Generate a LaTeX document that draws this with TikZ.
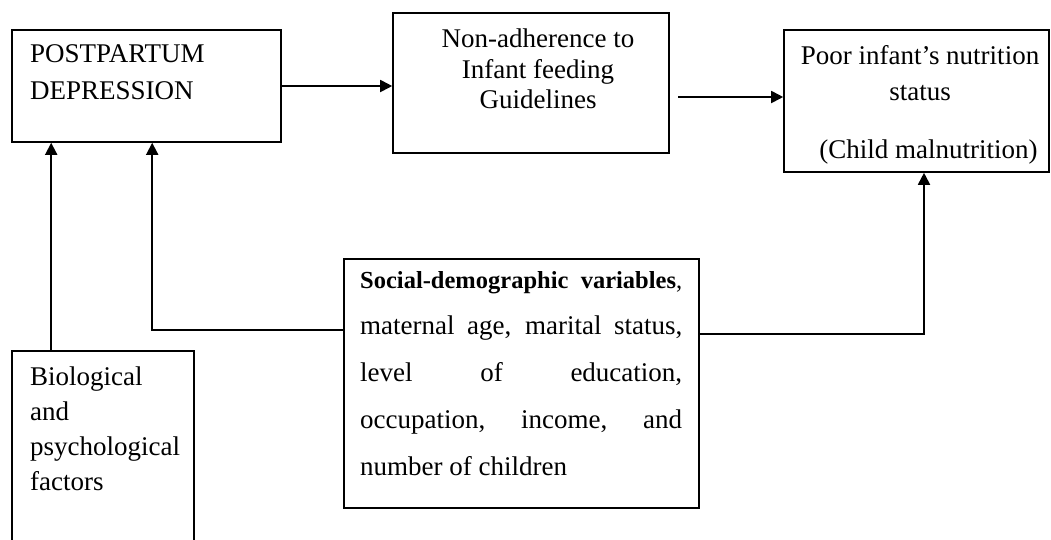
\documentclass[tikz,border=0pt]{standalone}
\usepackage{fontspec}
\setmainfont{Liberation Serif}
\usetikzlibrary{arrows.meta}
\usetikzlibrary{calc}

\begin{document}
\begin{tikzpicture}[x=1pt,y=-1pt]

          \tikzstyle{boxNode} = [draw, line width=1.6pt, rectangle, inner sep=0pt];
          \tikzstyle{textNode} = [inner sep=0pt];
          \tikzstyle{arrowEdge} = [line width=1.8pt, -{Triangle[length=12pt,width=12pt]}];

          \useasboundingbox (0,0) rectangle (1051,539);

          % boxes
          \node[boxNode, minimum width=269pt, minimum height=112pt] (ppd) at (146.5,86) {};
          \node[boxNode, minimum width=276pt, minimum height=140pt] (nonadh) at (531,83) {};
          \node[boxNode, minimum width=265pt, minimum height=142pt] (poor) at (916.5,101) {};
          \node[boxNode, minimum width=355pt, minimum height=249pt] (socdem) at (521.5,383.5) {};
          \node[boxNode, minimum width=182pt, minimum height=220pt] (bio) at (103,461) {};

          % texts
          \node[textNode, anchor=north west, align=left, font=\fontsize{27}{37}\selectfont] (ppdText) at (30,44.6) {POSTPARTUM\\DEPRESSION};
          \node[textNode, anchor=north, align=center, font=\fontsize{27}{30.5}\selectfont] (nonadhText) at (538,28.6) {Non-adherence to\\Infant feeding\\Guidelines};
          \node[textNode, anchor=north, align=center, font=\fontsize{27}{36}\selectfont] (poorText) at (920,45.6) {Poor infant’s nutrition\\status\\[22pt] \hspace*{17pt}(Child malnutrition)};
          \node[textNode, anchor=north west, text width=322pt, align=justify, font=\fontsize{27}{46.7}\selectfont] (socdemText) at (360,271)
            {\makebox[322pt][s]{\fontsize{24.5}{46.7}\selectfont\textbf{Social-demographic} \textbf{variables},}\\
             maternal age, marital status, \linebreak level of education, \linebreak occupation, income, and \linebreak number of children};
          \node[textNode, anchor=north west, align=left, font=\fontsize{27}{35}\selectfont] (bioText) at (30,366.6) {Biological\\and\\psychological\\factors};

          % connectors
          \coordinate (gapStart) at (678,97);
          \draw[arrowEdge] (ppd.east) -- (ppd.east -| nonadh.west);
          \draw[arrowEdge] (gapStart) -- (gapStart -| poor.west);
          \draw[arrowEdge] ([xshift=40pt]bio.north west) -- ([xshift=40pt]bio.north west |- ppd.south);
          \draw[arrowEdge] ([yshift=53.5pt]socdem.west) -| ([xshift=141pt]ppd.south west);
          \draw[arrowEdge] ([yshift=49.5pt]socdem.east) -| ([xshift=7.5pt]poor.south);
        \end{tikzpicture}
\end{document}
